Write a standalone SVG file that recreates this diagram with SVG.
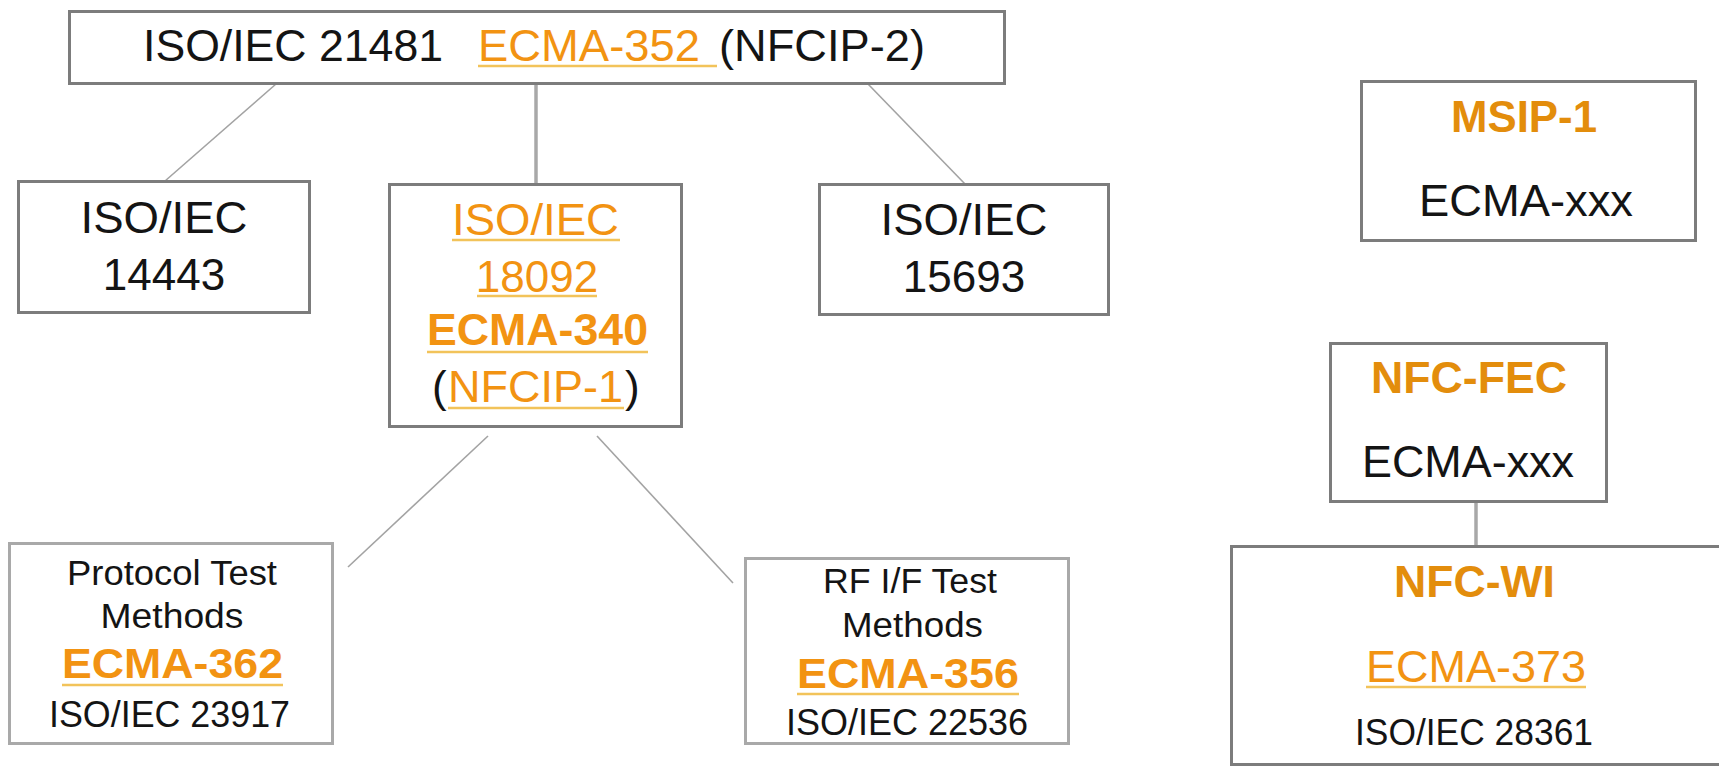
<svg xmlns="http://www.w3.org/2000/svg" width="1719" height="767" viewBox="0 0 1719 767">
<style>
text{font-family:"Liberation Sans",Arial,sans-serif;fill:#141414}
.m{text-anchor:middle}
.o{fill:#f29312}
.ob{fill:#e38d0c;font-weight:bold}
.b{font-weight:bold}
.box{fill:#fff;stroke:#7c7c7c;stroke-width:3}
.lbox{fill:#fff;stroke:#a9a9a9;stroke-width:3}
.ul{stroke:#f2c35a;stroke-width:2.5}
.con{stroke:#a3a3a3;stroke-width:1.6;fill:none}
.conT{stroke:#a8a8a8;stroke-width:3.5;fill:none}
</style>
<rect width="1719" height="767" fill="#fff"/>
<g id="connectors">
<line class="con" x1="276" y1="84" x2="165" y2="181"/>
<line class="conT" x1="536" y1="85" x2="536" y2="184"/>
<line class="con" x1="868" y1="84" x2="965" y2="184"/>
<line class="con" x1="488" y1="436" x2="348" y2="567"/>
<line class="con" x1="597" y1="436" x2="733" y2="583"/>
<line class="conT" x1="1476" y1="503" x2="1476" y2="546"/>
</g>
<g id="n-top">
<rect class="box" x="69.5" y="11.5" width="935" height="72"/>
<text x="143" y="61" font-size="44" textLength="300" lengthAdjust="spacingAndGlyphs">ISO/IEC 21481</text>
<text class="o" x="478" y="61" font-size="44" textLength="222" lengthAdjust="spacingAndGlyphs">ECMA-352</text>
<line class="ul" x1="478" y1="66" x2="717" y2="66"/>
<text x="719" y="61" font-size="44" textLength="206" lengthAdjust="spacingAndGlyphs">(NFCIP-2)</text>
</g>
<g id="n-14443">
<rect class="box" x="18.5" y="181.5" width="291" height="131"/>
<text class="m" x="164" y="233" font-size="44" textLength="167" lengthAdjust="spacingAndGlyphs">ISO/IEC</text>
<text class="m" x="164" y="290" font-size="44">14443</text>
</g>
<g id="n-18092">
<rect class="box" x="389.5" y="184.5" width="292" height="242"/>
<text class="m o" x="535.5" y="235" font-size="44" textLength="167" lengthAdjust="spacingAndGlyphs">ISO/IEC</text>
<line class="ul" x1="452" y1="240" x2="620" y2="240"/>
<text class="m o" x="537" y="292" font-size="44">18092</text>
<line class="ul" x1="477" y1="296" x2="597" y2="296"/>
<text class="m o b" x="537.5" y="345" font-size="44" textLength="221" lengthAdjust="spacingAndGlyphs">ECMA-340</text>
<line class="ul" x1="427" y1="352" x2="648" y2="352"/>
<text x="432" y="402" font-size="44">(</text>
<text class="o" x="448" y="402" font-size="44" textLength="175" lengthAdjust="spacingAndGlyphs">NFCIP-1</text>
<line class="ul" x1="448" y1="408" x2="624" y2="408"/>
<text x="625" y="402" font-size="44">)</text>
</g>
<g id="n-15693">
<rect class="box" x="819.5" y="184.5" width="289" height="130"/>
<text class="m" x="964" y="235" font-size="44" textLength="167" lengthAdjust="spacingAndGlyphs">ISO/IEC</text>
<text class="m" x="964" y="292" font-size="44">15693</text>
</g>
<g id="n-protocol">
<rect class="lbox" x="9.5" y="543.5" width="323" height="200"/>
<text class="m" x="172" y="585" font-size="35" textLength="210" lengthAdjust="spacingAndGlyphs">Protocol Test</text>
<text class="m" x="172" y="628" font-size="35" textLength="143" lengthAdjust="spacingAndGlyphs">Methods</text>
<text class="m o b" x="172.5" y="678" font-size="42" textLength="221" lengthAdjust="spacingAndGlyphs">ECMA-362</text>
<line class="ul" x1="62" y1="685" x2="283" y2="685"/>
<text class="m" x="169.5" y="727" font-size="37" textLength="241" lengthAdjust="spacingAndGlyphs">ISO/IEC 23917</text>
</g>
<g id="n-rf">
<rect class="lbox" x="745.5" y="558.5" width="323" height="185"/>
<text class="m" x="910" y="593" font-size="35" textLength="174" lengthAdjust="spacingAndGlyphs">RF I/F Test</text>
<text class="m" x="912.5" y="637" font-size="35" textLength="141" lengthAdjust="spacingAndGlyphs">Methods</text>
<text class="m o b" x="908" y="688" font-size="42" textLength="222" lengthAdjust="spacingAndGlyphs">ECMA-356</text>
<line class="ul" x1="797" y1="694" x2="1019" y2="694"/>
<text class="m" x="907" y="735" font-size="37" textLength="242" lengthAdjust="spacingAndGlyphs">ISO/IEC 22536</text>
</g>
<g id="n-msip">
<rect class="box" x="1361.5" y="81.5" width="334" height="159"/>
<text class="m ob" x="1524" y="132" font-size="44" textLength="146" lengthAdjust="spacingAndGlyphs">MSIP-1</text>
<text class="m" x="1526" y="216" font-size="45" textLength="214" lengthAdjust="spacingAndGlyphs">ECMA-xxx</text>
</g>
<g id="n-fec">
<rect class="box" x="1330.5" y="343.5" width="276" height="158"/>
<text class="m ob" x="1469" y="393" font-size="44" textLength="196" lengthAdjust="spacingAndGlyphs">NFC-FEC</text>
<text class="m" x="1468" y="477" font-size="45" textLength="212" lengthAdjust="spacingAndGlyphs">ECMA-xxx</text>
</g>
<g id="n-wi">
<rect class="box" x="1231.5" y="546.5" width="520" height="218"/>
<text class="m ob" x="1474.5" y="597" font-size="44" textLength="161" lengthAdjust="spacingAndGlyphs">NFC-WI</text>
<text class="m o" x="1476" y="682" font-size="45" textLength="220" lengthAdjust="spacingAndGlyphs">ECMA-373</text>
<line class="ul" x1="1366" y1="687" x2="1586" y2="687"/>
<text class="m" x="1474" y="745" font-size="36" textLength="238" lengthAdjust="spacingAndGlyphs">ISO/IEC 28361</text>
</g>
</svg>
